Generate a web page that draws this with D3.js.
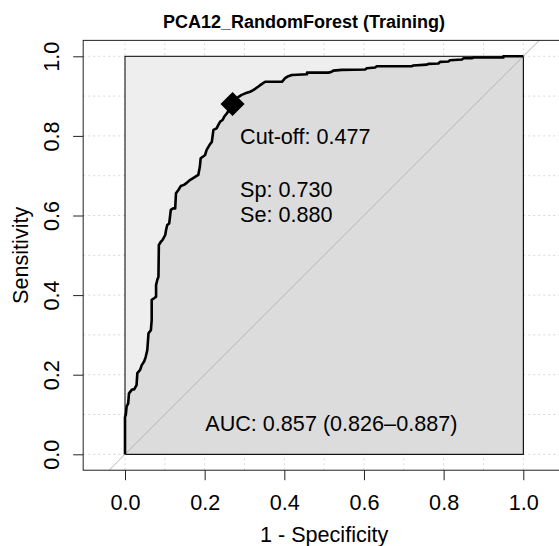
<!DOCTYPE html>
<html>
<head>
<meta charset="utf-8">
<script src="https://cdn.jsdelivr.net/npm/d3@7"></script>
<style>
  html, body { margin: 0; padding: 0; background: #ffffff; }
  svg { display: block; }
  text { font-family: "Liberation Sans", Arial, Helvetica, sans-serif; fill: #000; }
</style>
</head>
<body>
<svg id="chart" width="559" height="546"></svg>
<script>
// ---------------- data ----------------
const chartTitle = "PCA12_RandomForest (Training)";
const xLabel = "1 - Specificity";
const yLabel = "Sensitivity";

// ROC curve: false positive rate (1 - specificity) and sensitivity
const fpr = [0, 0, 0.002, 0.004, 0.008, 0.010, 0.018, 0.023, 0.029, 0.031, 0.038, 0.042, 0.048, 0.052, 0.056,
  0.059, 0.065, 0.067, 0.067, 0.073, 0.078, 0.078, 0.081, 0.084, 0.085, 0.090, 0.094, 0.101, 0.103, 0.106,
  0.111, 0.115, 0.121, 0.126, 0.128, 0.134, 0.140, 0.148, 0.155, 0.163, 0.176, 0.184, 0.188, 0.190, 0.197,
  0.201, 0.205, 0.212, 0.218, 0.222, 0.230, 0.234, 0.239, 0.245, 0.249, 0.256, 0.270, 0.285, 0.293, 0.302,
  0.314, 0.322, 0.335, 0.343, 0.352, 0.394, 0.402, 0.410, 0.419, 0.457, 0.457, 0.511, 0.519, 0.523, 0.544,
  0.603, 0.607, 0.628, 0.632, 0.720, 0.724, 0.758, 0.762, 0.787, 0.791, 0.812, 0.816, 0.846, 0.850, 0.871,
  0.875, 0.950, 0.950, 1.0];
const tpr = [0, 0.094, 0.099, 0.120, 0.128, 0.153, 0.163, 0.163, 0.174, 0.204, 0.212, 0.224, 0.233, 0.245, 0.262,
  0.304, 0.312, 0.337, 0.388, 0.392, 0.396, 0.425, 0.438, 0.446, 0.526, 0.534, 0.538, 0.551, 0.563, 0.576,
  0.580, 0.614, 0.618, 0.618, 0.656, 0.664, 0.674, 0.677, 0.682, 0.689, 0.697, 0.702, 0.723, 0.744, 0.749,
  0.752, 0.765, 0.777, 0.785, 0.815, 0.819, 0.827, 0.836, 0.840, 0.848, 0.857, 0.880, 0.898, 0.903, 0.907,
  0.911, 0.915, 0.924, 0.930, 0.936, 0.936, 0.945, 0.950, 0.953, 0.955, 0.959, 0.959, 0.961, 0.964, 0.966,
  0.967, 0.970, 0.972, 0.975, 0.975, 0.977, 0.979, 0.981, 0.982, 0.986, 0.987, 0.990, 0.992, 0.995, 0.995,
  0.997, 0.997, 1.0, 1.0];

// best threshold
const cutoff = 0.477;
const bestSp = 0.730;
const bestSe = 0.880;
// AUC with CI
const aucValue = 0.857;
const aucCI = [0.826, 0.887];

const tickValues = [0, 0.2, 0.4, 0.6, 0.8, 1.0];
const gridValues = [0, 0.1, 0.2, 0.3, 0.4, 0.5, 0.6, 0.7, 0.8, 0.9, 1.0];

// ---------------- layout ----------------
const svg = d3.select("#chart");
const x = d3.scaleLinear().domain([0, 1]).range([125, 523.3]);
const y = d3.scaleLinear().domain([0, 1]).range([454.3, 56.3]);
// plot region (R usr extents, asp = 1)
const xMin = -0.105, xMax = 1.105, yMin = -0.04, yMax = 1.04;
const fontSize = 21.6;

// grid
const grid = svg.append("g").attr("stroke", "#d8d8d8").attr("stroke-width", 1)
  .attr("stroke-dasharray", "2,3");
grid.selectAll("line.v").data(gridValues).join("line").attr("class", "v")
  .attr("x1", d => x(d)).attr("x2", d => x(d))
  .attr("y1", y(yMin)).attr("y2", y(yMax));
grid.selectAll("line.h").data(gridValues).join("line").attr("class", "h")
  .attr("y1", d => y(d)).attr("y2", d => y(d))
  .attr("x1", x(xMin)).attr("x2", x(xMax));

// max AUC polygon (unit square)
svg.append("rect")
  .attr("x", x(0)).attr("y", y(1))
  .attr("width", x(1) - x(0)).attr("height", y(0) - y(1))
  .attr("fill", "#eeeeee").attr("stroke", "#000").attr("stroke-width", 1);

// AUC polygon
const pts = fpr.map((f, i) => [f, tpr[i]]);
const polyPts = pts.concat([[1, 0], [0, 0]]);
svg.append("path")
  .attr("d", d3.line().x(d => x(d[0])).y(d => y(d[1]))(polyPts) + "Z")
  .attr("fill", "#dcdcdc").attr("stroke", "#000").attr("stroke-width", 1);

// identity line
svg.append("line")
  .attr("x1", x(yMin)).attr("y1", y(yMin))
  .attr("x2", x(yMax)).attr("y2", y(yMax))
  .attr("stroke", "#b4b4b4").attr("stroke-width", 1);

// ROC curve
svg.append("path")
  .attr("d", d3.line().x(d => x(d[0])).y(d => y(d[1]))(pts))
  .attr("fill", "none").attr("stroke", "#000").attr("stroke-width", 2.6)
  .attr("stroke-linejoin", "round");

// plot frame
svg.append("rect")
  .attr("x", x(xMin)).attr("y", y(yMax))
  .attr("width", x(xMax) - x(xMin)).attr("height", y(yMin) - y(yMax))
  .attr("fill", "none").attr("stroke", "#222").attr("stroke-width", 1);

// best point marker
const bx = x(1 - bestSp), by = y(bestSe);
svg.append("path")
  .attr("d", d3.symbol().type(d3.symbolSquare).size(290)())
  .attr("transform", `translate(${bx},${by}) rotate(45)`)
  .attr("fill", "#000");

// annotations
const fmt3 = d3.format(".3f");
svg.append("text").attr("x", bx + 7.5).attr("y", by + 40)
  .attr("font-size", fontSize).text(`Cut-off: ${fmt3(cutoff)}`);
svg.append("text").attr("x", bx + 7.5).attr("y", by + 93)
  .attr("font-size", fontSize).text(`Sp: ${fmt3(bestSp)}`);
svg.append("text").attr("x", bx + 7.5).attr("y", by + 118)
  .attr("font-size", fontSize).text(`Se: ${fmt3(bestSe)}`);
svg.append("text").attr("x", x(0.518)).attr("y", y(0.058))
  .attr("text-anchor", "middle").attr("font-size", fontSize)
  .text(`AUC: ${fmt3(aucValue)} (${fmt3(aucCI[0])}\u2013${fmt3(aucCI[1])})`);

// x axis
const xAxis = svg.append("g").attr("transform", `translate(0,${y(yMin)})`)
  .call(d3.axisBottom(x).tickValues(tickValues).tickFormat(d3.format(".1f")).tickSize(10).tickPadding(0));
xAxis.select(".domain").remove();
xAxis.selectAll(".tick line").attr("stroke", "#222");
xAxis.selectAll(".tick text").attr("font-size", fontSize).attr("font-family", null)
  .attr("dy", null).attr("y", 39.3);

// y axis
const yAxis = svg.append("g").attr("transform", `translate(${x(xMin)},0)`)
  .call(d3.axisLeft(y).tickValues(tickValues).tickFormat(d3.format(".1f")).tickSize(10).tickPadding(0));
yAxis.select(".domain").remove();
yAxis.selectAll(".tick line").attr("stroke", "#222");
yAxis.selectAll(".tick text").attr("font-size", fontSize).attr("font-family", null)
  .attr("x", null).attr("dy", null).attr("text-anchor", "middle")
  .attr("transform", "translate(-24,0) rotate(-90)");

// axis titles
svg.append("text").attr("x", (x(xMin) + x(xMax)) / 2).attr("y", 541.7)
  .attr("text-anchor", "middle").attr("font-size", fontSize).text(xLabel);
svg.append("text").attr("transform", `translate(28,${(y(yMin) + y(yMax)) / 2}) rotate(-90)`)
  .attr("text-anchor", "middle").attr("font-size", fontSize).text(yLabel);

// title
svg.append("text").attr("x", 304).attr("y", 27.5)
  .attr("text-anchor", "middle").attr("font-size", 18).attr("font-weight", "bold")
  .text(chartTitle);
</script>
</body>
</html>
